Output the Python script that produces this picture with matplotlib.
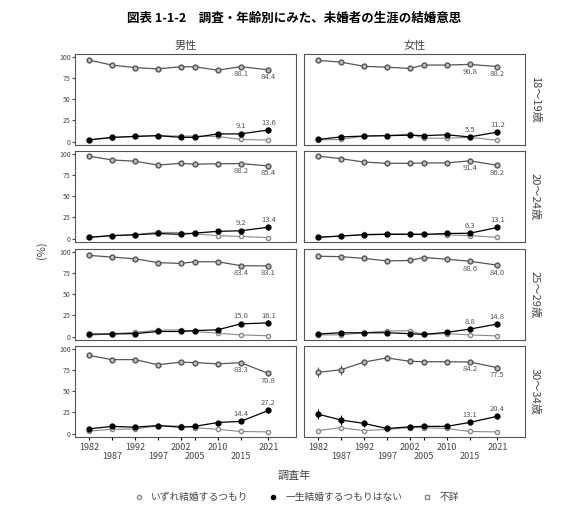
import matplotlib
matplotlib.use("Agg")
import matplotlib.pyplot as plt
import numpy as np

plt.rcParams['font.family'] = ['Noto Sans CJK JP', 'DejaVu Sans']

years = [1982, 1987, 1992, 1997, 2002, 2005, 2010, 2015, 2021]
sexes = ["男性", "女性"]
ages = ["18～19歳", "20～24歳", "25～29歳", "30～34歳"]
series_names = ["いずれ結婚するつもり", "一生結婚するつもりはない", "不詳"]

yes = {
 ("男性",0): [95.9,90.0,87.0,85.5,88.0,88.0,84.0,88.1,84.4],
 ("男性",1): [97,92.5,91,86.5,88.5,87.5,88,88.2,85.4],
 ("男性",2): [95.5,93.5,91.5,87,86,88,88,83.4,83.1],
 ("男性",3): [92,87,87,81,84,83.5,82,83.3,70.8],
 ("女性",0): [95.5,93.5,88.5,87.5,86,90,90,90.8,88.2],
 ("女性",1): [97,94,90,88.5,88.5,89,89,91.4,86.2],
 ("女性",2): [94.5,94,92,89,89.5,93,91,88.6,84.0],
 ("女性",3): [72,75,84,89,85,84.5,84.5,84.2,77.5],
}
never = {
 ("男性",0): [2.0,5.0,6.0,7.0,5.0,5.0,9.0,9.1,13.6],
 ("男性",1): [1.5,3.5,4.5,6,5,6.5,8.5,9.2,13.4],
 ("男性",2): [3,3,3.5,6,6,7,8,15.0,16.1],
 ("男性",3): [5.5,8.5,7.5,9.5,7.5,8.5,13,14.4,27.2],
 ("女性",0): [2.5,5.5,6.5,7,7.5,7,8,5.5,11.2],
 ("女性",1): [1.5,3,4.5,5,5,5,6,6.3,13.1],
 ("女性",2): [3,4.5,4.5,4.5,3.5,2.5,5,8.8,14.8],
 ("女性",3): [23,16,12,6,8,8.5,8.5,13.1,20.4],
}
unk = {
 ("男性",0): [2.0,4.5,6.5,7.0,6.5,6.5,6.0,2.5,1.8],
 ("男性",1): [1.5,3.5,4.5,7.5,7,5.5,3.5,2.5,1.2],
 ("男性",2): [1.5,3.5,5,7.5,8,6,4,2,1],
 ("男性",3): [3,5,5.5,9,9,7,5,2.5,2],
 ("女性",0): [2,2.5,6.5,7,9,4,4,5,1.5],
 ("女性",1): [1.5,3,5,5.5,5.5,5,4.5,3.5,1.5],
 ("女性",2): [2,2,4.5,6.5,7,2.5,3.5,2,0.8],
 ("女性",3): [3.5,7,3.5,5,7,7,6,2.5,2],
}
err_small = [1.2,1.2,1.2,1.5,1.5,1.5,2,2,3]
err_f30 = [6,6,4,3,2.5,2.5,2.5,2.5,3]

fig = plt.figure(figsize=(5.88,5.07), dpi=100)
fig.text(0.5, 0.965, "図表 1-1-2　調査・年齢別にみた、未婚者の生涯の結婚意思", ha='center', va='center', fontsize=9, fontweight='bold')

lefts = [75/588, 304/588]
w = 221/588
tops = [54, 151, 249, 346]
h = 91
for c, sx in enumerate(sexes):
    fig.text(lefts[c]+w/2, 1-46/507, sx, ha='center', va='center', fontsize=8, color='#444')
    for r in range(4):
        ax = fig.add_axes([lefts[c], 1-(tops[r]+h)/507, w, h/507])
        key = (sx, r)
        err = err_f30 if key == ("女性",3) else err_small
        ax.errorbar(years, unk[key], yerr=[e*0.5 for e in err], color='#888', marker='o', mfc='white', ms=3, lw=0.8, elinewidth=0.6, capsize=0)
        ax.errorbar(years, yes[key], yerr=err, color='#555', marker='o', mfc='#bbb', ms=3.5, lw=0.9, elinewidth=0.7, capsize=0)
        ax.errorbar(years, never[key], yerr=err, color='black', marker='o', ms=3.5, lw=0.9, elinewidth=0.7, capsize=0)
        for i in (-2, -1):
            ax.text(years[i], yes[key][i]-4, f"{yes[key][i]:.1f}", ha='center', va='top', fontsize=5.5, color='#555')
            ax.text(years[i], never[key][i]+4, f"{never[key][i]:.1f}", ha='center', va='bottom', fontsize=5.5, color='#555')
        ax.set_xlim(1979, 2027)
        ax.set_ylim(-4, 103)
        ax.set_xticks(years)
        if r == 3:
            ax.set_xticklabels([str(y) if i % 2 == 0 else "\n"+str(y) for i, y in enumerate(years)], fontsize=6.5, color='#444', linespacing=1.1)
            ax.tick_params(axis='x', length=2, pad=2)
        else:
            ax.set_xticklabels([])
            ax.tick_params(axis='x', length=0)
        if c == 0:
            ax.set_yticks([0,25,50,75,100])
            ax.tick_params(axis='y', labelsize=5, colors='#444', length=2, pad=1)
        else:
            ax.set_yticks([])
        for s in ax.spines.values():
            s.set_color('#555'); s.set_linewidth(0.8)
        if c == 1:
            ax.text(1.045, 0.5, ages[r], transform=ax.transAxes, rotation=-90, ha='center', va='center', fontsize=8, color='#444')

fig.text(42/588, 1-250/507, "(%)", rotation=90, ha='center', va='center', fontsize=8, color='#444')
fig.text(0.5, 1-476/507, "調査年", ha='center', va='center', fontsize=8, color='#444')

from matplotlib.lines import Line2D
handles = [Line2D([],[],ls='',marker='o',mfc='white',mec='#888',ms=3),
           Line2D([],[],ls='',marker='o',color='black',ms=3),
           Line2D([],[],ls='',marker='s',mfc='white',mec='#888',ms=3)]
fig.legend(handles, series_names, loc='center', bbox_to_anchor=(0.5, 1-497/507), ncol=3, frameon=False, fontsize=7, handletextpad=0.3, columnspacing=1.5, labelcolor='#444')

fig.savefig("out.png", dpi=100)
